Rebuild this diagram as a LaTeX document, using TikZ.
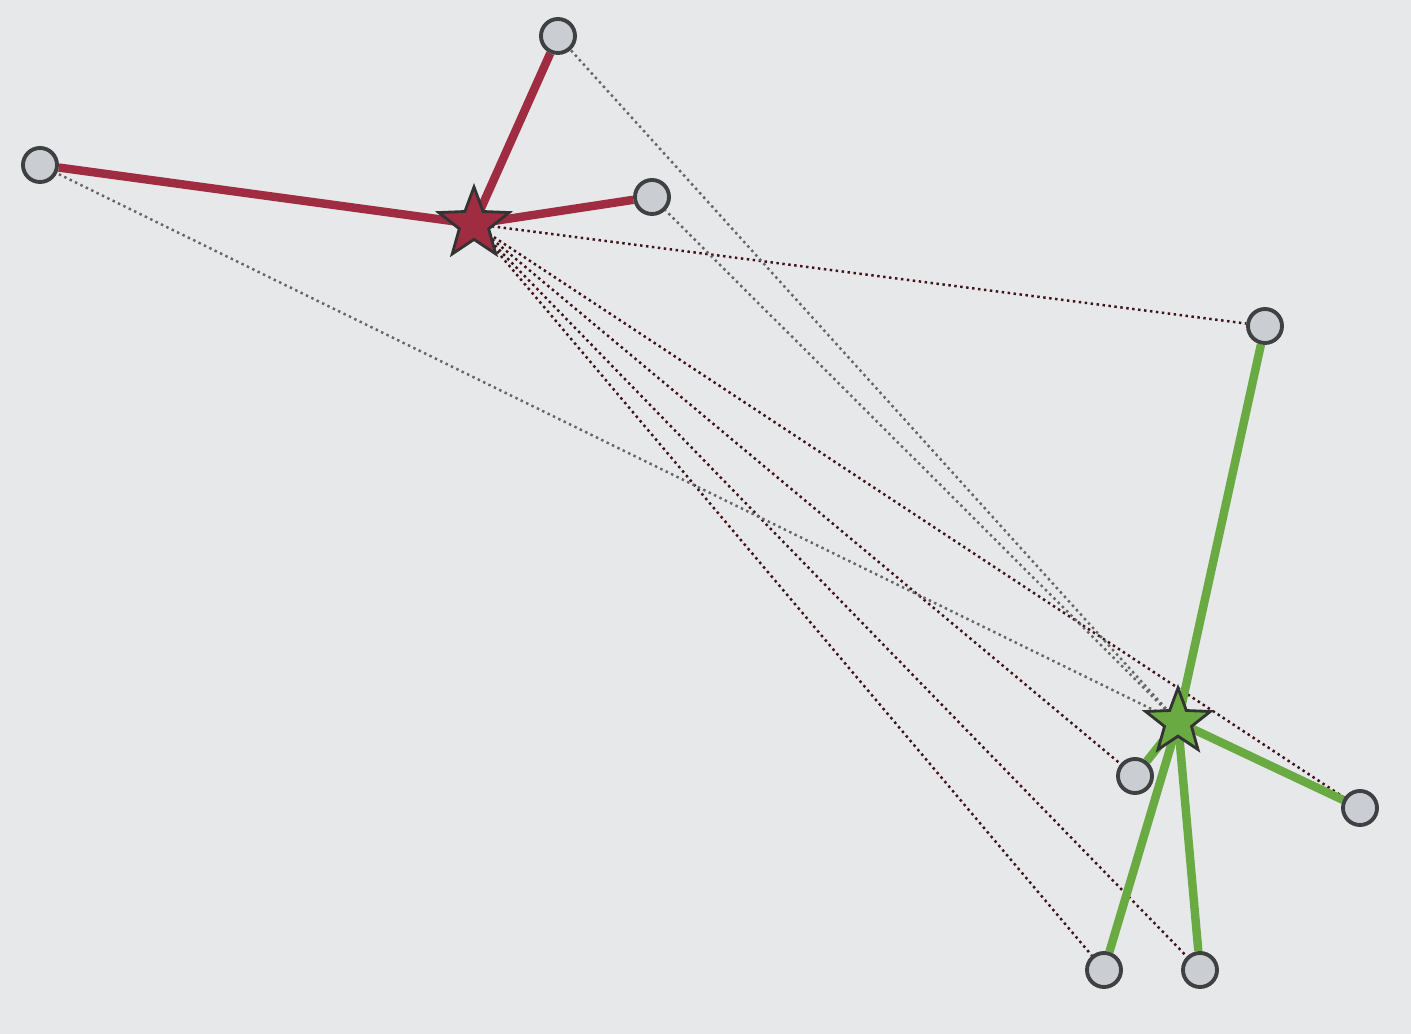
\documentclass[tikz,border=0pt]{standalone}
\usepackage{xcolor}
\usepackage{tikz}
\usetikzlibrary{shapes.geometric, arrows.meta, positioning, calc}
\definecolor{paper}{RGB}{231,232,233}
\definecolor{redhub}{RGB}{160,44,66}
\definecolor{greenhub}{RGB}{106,170,66}
\definecolor{sitefill}{RGB}{202,206,210}
\definecolor{siteline}{RGB}{62,64,66}
\pgfdeclarelayer{bg}
\pgfdeclarelayer{links}
\pgfsetlayers{bg,links,main}
\tikzset{
  site/.style={circle, draw=siteline, fill=sitefill, line width=1.1pt, minimum size=0.34cm, inner sep=0pt},
  hubred/.style={star, star points=5, star point ratio=2.4, draw=black!80, fill=redhub, line width=0.8pt, minimum size=0.74cm, inner sep=0pt},
  hubgreen/.style={star, star points=5, star point ratio=2.4, draw=black!80, fill=greenhub, line width=0.8pt, minimum size=0.68cm, inner sep=0pt},
  redlink/.style={draw=redhub, line width=2.4pt},
  greenlink/.style={draw=greenhub, line width=2.4pt},
  crossred/.style={draw=redhub!40!black, line width=0.7pt, densely dotted},
  crossgray/.style={draw=black!60, line width=0.7pt, densely dotted},
}

\begin{document}
\begin{tikzpicture}[x=0.01cm, y=-0.01cm]
\useasboundingbox (0,0) rectangle (1411,1034);
\begin{pgfonlayer}{bg}
\fill[paper] (0,0) rectangle (1411,1034);
\end{pgfonlayer}
% red cluster
\node[hubred] (hr) at (474,224) {};
\node[site] (r1) at (40,165) {};
\node[site] (r2) at (558,36) {};
\node[site] (r3) at (652,197) {};
% green cluster
\node[hubgreen] (hg) at (1178,722) {};
\node[site] (g1) at (1265,326) {};
\node[site] (g2) at (1135,776) {};
\node[site] (g3) at (1360,808) {};
\node[site] (g4) at (1104,970) {};
\node[site] (g5) at (1200,970) {};
\begin{pgfonlayer}{links}
\foreach \g in {g1,g2,g3,g4,g5}
  \draw[crossred] (hr.center) -- (\g);
\foreach \r in {r1,r2,r3}
  \draw[crossgray] (hg.center) -- (\r);
\foreach \r in {r1,r2,r3}
  \draw[redlink] (hr.center) -- (\r);
\foreach \g in {g1,g2,g3,g4,g5}
  \draw[greenlink] (hg.center) -- (\g);
\end{pgfonlayer}
\end{tikzpicture}
\end{document}
